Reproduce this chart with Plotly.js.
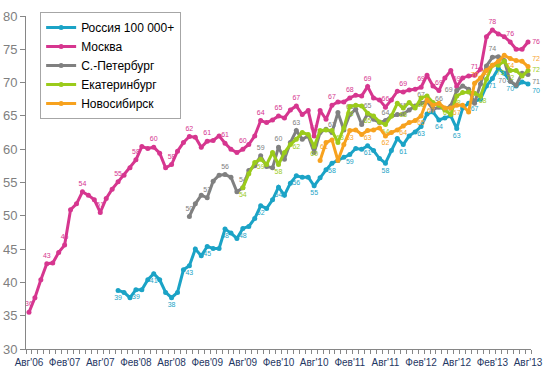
<!DOCTYPE html>
<html><head><meta charset="utf-8">
<script src="https://cdn.plot.ly/plotly-3.0.1.min.js"></script>
<style>html,body{margin:0;padding:0;background:#fff}#chart{width:547px;height:373px}</style>
</head><body><div id="chart"></div>
<script>
// Categories: months Aug 2006 .. Aug 2013
const months = [
 "2006-08","2006-09","2006-10","2006-11","2006-12",
 "2007-01","2007-02","2007-03","2007-04","2007-05","2007-06","2007-07","2007-08","2007-09","2007-10","2007-11","2007-12",
 "2008-01","2008-02","2008-03","2008-04","2008-05","2008-06","2008-07","2008-08","2008-09","2008-10","2008-11","2008-12",
 "2009-01","2009-02","2009-03","2009-04","2009-05","2009-06","2009-07","2009-08","2009-09","2009-10","2009-11","2009-12",
 "2010-01","2010-02","2010-03","2010-04","2010-05","2010-06","2010-07","2010-08","2010-09","2010-10","2010-11","2010-12",
 "2011-01","2011-02","2011-03","2011-04","2011-05","2011-06","2011-07","2011-08","2011-09","2011-10","2011-11","2011-12",
 "2012-01","2012-02","2012-03","2012-04","2012-05","2012-06","2012-07","2012-08","2012-09","2012-10","2012-11","2012-12",
 "2013-01","2013-02","2013-03","2013-04","2013-05","2013-06","2013-07","2013-08"
];
const tickMonths = ["2006-08","2007-02","2007-08","2008-02","2008-08","2009-02","2009-08","2010-02","2010-08","2011-02","2011-08","2012-02","2012-08","2013-02","2013-08"];
const tickLabels = ["Авг'06","Фев'07","Авг'07","Фев'08","Авг'08","Фев'09","Авг'09","Фев'10","Авг'10","Фев'11","Авг'11","Фев'12","Авг'12","Фев'13","Авг'13"];

const seriesNames = ["Россия 100 000+","Москва","С.-Петербург","Екатеринбург","Новосибирск"];

// Россия 100 000+ : from 2007-11
const russiaStart = "2007-11";
const russia = [38.8,38.5,37.7,38.9,38.9,40.4,41.3,40.4,38.5,37.7,38.5,41.9,42.5,45.0,44.0,45.4,45.1,45.1,48.0,47.4,
 46.6,48.1,48.4,49.6,51.5,51.1,52.4,54.3,53.1,54.9,56.0,55.8,55.8,54.5,55.7,56.9,57.9,58.3,58.8,59.2,
 60.1,60.0,60.5,59.8,58.6,57.9,59.8,61.6,60.7,62.0,62.6,63.4,65.3,65.6,64.4,64.7,65.0,63.1,66.2,66.9,
 67.2,67.5,69.5,70.6,72.1,71.4,70.2,69.5,70.1,69.8];

// Москва : from 2006-08
const moscowStart = "2006-08";
const moscow = [35.5,37.7,40.4,42.8,42.9,44.5,45.6,50.9,51.8,53.6,53.1,52.4,50.5,52.6,54.0,55.1,56.1,57.2,58.4,60.4,
 60.1,60.3,59.4,57.2,57.7,59.7,61.0,61.9,61.8,60.3,61.2,61.3,62.0,60.9,60.0,59.5,60.0,60.7,62.0,64.3,
 64.0,64.4,65.0,64.7,65.9,66.5,65.2,65.8,62.0,65.8,64.5,66.6,67.1,67.1,67.7,68.1,68.0,69.4,67.7,67.4,
 66.3,67.4,68.7,68.6,68.9,69.0,69.3,71.1,69.5,68.8,70.7,71.8,69.4,70.7,71.0,71.1,72.0,76.9,77.9,77.3,
 76.9,76.1,75.0,75.0,76.1];

// С.-Петербург : from 2008-11
const spbStart = "2008-11";
const spb = [49.9,51.8,53.1,52.7,55.2,56.1,56.2,55.8,53.6,54.2,56.8,57.5,59.0,57.4,57.2,60.3,58.5,61.0,62.8,61.5,
 62.0,59.5,62.5,63.0,62.5,65.5,62.9,65.2,66.0,63.7,65.3,64.5,64.0,64.3,65.0,65.2,65.3,65.9,66.5,66.9,
 67.2,66.0,66.3,66.0,66.5,68.8,69.5,69.0,66.9,69.8,72.5,73.8,73.9,73.3,70.2,69.6,71.4,71.2];

// Екатеринбург : from 2009-08
const ekbStart = "2009-08";
const ekb = [54.2,56.3,58.0,58.5,57.7,59.5,57.7,59.5,60.7,61.5,62.5,62.2,60.4,62.8,62.9,62.8,61.0,63.2,66.4,66.6,
 66.5,65.4,65.0,64.1,63.7,65.0,66.9,66.2,67.0,66.2,67.7,68.0,67.0,66.6,65.9,65.2,68.0,68.5,68.6,68.4,
 68.0,70.5,72.6,72.6,73.2,71.8,71.8,71.0,71.8];

// Новосибирск : from 2010-09
const nskStart = "2010-09";
const nsk = [58.3,61.0,61.4,58.3,60.7,62.8,62.9,62.2,62.8,62.9,63.2,62.0,62.5,62.9,63.5,64.0,64.3,65.0,67.4,66.6,
 66.9,66.2,66.2,66.6,66.6,65.6,69.9,70.7,71.8,72.6,73.2,74.1,73.6,73.3,73.2,72.4];

const colors = ["#1BA3C6","#D6368F","#808080","#9BCB1B","#F7A21E"];

// label placement (style only): default per series, with overrides by month index
const labelPlacement = [
  {def: "bottom center", over: {84: "bottom right"}},
  {def: "top center", over: {84: "middle right"}},
  {def: "top center", over: {72: "middle left", 81: "middle left", 84: "bottom right"}},
  {def: "bottom center", over: {51: "bottom right", 69: "bottom right", 75: "bottom right", 78: "bottom right", 84: "middle right"}},
  {def: "bottom center", over: {51: "bottom left", 69: "bottom left", 75: "top center", 78: "bottom left", 84: "top right"}}
];

function makeTrace(idx, vals, start) {
  const color = colors[idx];
  const place = labelPlacement[idx];
  const i0 = months.indexOf(start);
  const x = vals.map((_, k) => i0 + k);
  const text = vals.map((v, k) => ((i0 + k) % 3 === 0) ? String(Math.round(v)) : "");
  const tp = x.map(m => place.over[m] || place.def);
  return {
    type: "scatter", mode: "lines+markers+text", name: seriesNames[idx],
    x: x, y: vals, text: text, textposition: tp,
    textfont: {size: 7, color: color, family: "Liberation Sans, Arial, sans-serif"},
    line: {color: color, width: 3}, marker: {color: color, size: 5},
    cliponaxis: false, hoverinfo: "none"
  };
}

const data = [
  makeTrace(0, russia, russiaStart),
  makeTrace(1, moscow, moscowStart),
  makeTrace(2, spb, spbStart),
  makeTrace(3, ekb, ekbStart),
  makeTrace(4, nsk, nskStart)
];

const layout = {
  width: 547, height: 373,
  margin: {l: 26, r: 16, t: 12, b: 24, pad: 0},
  paper_bgcolor: "#fff", plot_bgcolor: "#fff",
  font: {family: "Liberation Sans, Arial, sans-serif"},
  showlegend: true,
  legend: {x: 0.028, y: 1.012, xanchor: "left", yanchor: "top", bordercolor: "#A6A6A6", borderwidth: 1,
           bgcolor: "#fff", font: {size: 12, color: "#000"}, itemwidth: 30, tracegroupgap: 0},
  xaxis: {
    range: [-0.5, 84.5], tickmode: "array",
    tickvals: tickMonths.map(m => months.indexOf(m)), ticktext: tickLabels,
    ticks: "outside", ticklen: 4, tickcolor: "rgba(0,0,0,0)",
    tickfont: {size: 10, color: "#1F3864"}, tickangle: 0,
    showline: true, linecolor: "#868686", showgrid: false, zeroline: false,
    minor: {tickmode: "linear", tick0: -0.5, dtick: 1, ticks: "outside", ticklen: 4, tickcolor: "#868686", showgrid: false}
  },
  yaxis: {
    range: [30, 80], tick0: 30, dtick: 5,
    ticks: "outside", ticklen: 5, tickcolor: "#868686",
    showline: true, linecolor: "#868686", showgrid: false, zeroline: false,
    tickfont: {size: 13, color: "#7F7F7F"}
  }
};

Plotly.newPlot("chart", data, layout, {displayModeBar: false, staticPlot: true});
</script>
</body></html>
